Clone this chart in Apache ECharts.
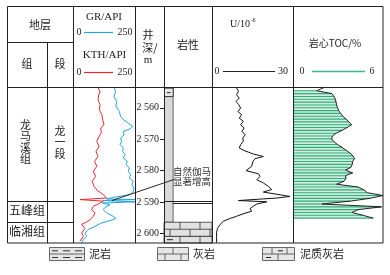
<!DOCTYPE html>
<html><head><meta charset="utf-8">
<script src="https://cdn.jsdelivr.net/npm/echarts@6/dist/echarts.min.js"></script>
<style>html,body{margin:0;padding:0;background:#fff}#c{width:390px;height:275px}</style>
</head><body><div id="c"></div>
<script>
// ---------------- data ----------------
const depthMin = 2553.4, depthMax = 2603.0;
const depthTicks = [2560, 2570, 2580, 2590, 2600];

const grDepth = [2553.6,2554.8,2556.4,2558.0,2559.6,2561.2,2562.8,2563.8,2564.9,2565.9,
  2566.7,2567.5,2568.6,2569.6,2570.7,2571.7,2572.8,2573.9,2574.9,2576.0,
  2577.0,2578.1,2579.1,2580.2,2581.3,2582.3,2583.4,2584.4,2585.5,2586.6,
  2587.6,2588.5,2589.0,2589.2,2589.5,2589.9,2590.3,2590.8,2591.7,2592.4,
  2593.4,2594.5,2595.2,2595.9,2596.6,2597.7,2598.7,2599.8,2600.9,2601.9,2602.9];
const grValue = [166,172,165,176,173,187,192,203,223,241,
  230,203,206,192,196,190,203,200,210,203,
  219,214,227,223,233,227,243,237,246,243,
  230,162,136,250,122,250,118,149,129,122,
  136,162,173,149,116,89,62,48,55,41,35];

const kthDepth = [2553.7,2554.9,2555.9,2557.5,2559.0,2560.6,2562.2,2563.8,2565.4,2566.4,
  2568.0,2569.6,2570.7,2572.3,2573.9,2575.5,2577.0,2578.6,2580.2,2581.8,
  2583.4,2585.0,2586.3,2587.6,2588.7,2589.2,2589.7,2590.6,2591.3,2592.4,
  2593.4,2594.5,2595.6,2596.3,2597.1,2598.4,2599.8,2600.9,2602.4];
const kthValue = [102,109,104,101,109,106,116,120,125,112,
  114,102,96,105,93,101,87,96,82,91,
  77,85,98,122,136,28,122,102,82,75,
  89,82,69,55,35,48,35,42,28];

const uDepth = [2553.7,2554.8,2555.9,2556.9,2558.0,2559.0,2560.1,2561.2,2562.2,2563.3,
  2564.3,2565.4,2566.4,2567.5,2568.6,2569.6,2570.7,2571.7,2572.8,2573.7,
  2574.7,2575.5,2576.2,2577.2,2578.6,2580.0,2581.0,2581.8,2582.9,2583.9,
  2585.0,2586.0,2586.8,2587.4,2588.2,2588.7,2589.5,2589.9,2590.6,2591.3,
  2592.1,2592.9,2593.7,2594.5,2595.2,2596.1,2597.1,2598.4,2599.8,2601.3,2602.9];
const uValue = [9.1,9.8,9.1,10.1,8.9,9.9,10.6,9.6,11.0,10.1,
  11.6,10.6,11.9,11.1,12.3,11.4,11.6,10.6,10.1,12.2,
  15.3,19.0,15.9,15.1,14.7,12.6,17.2,17.8,16.6,19.0,
  20.9,22.1,19.0,18.4,28.9,24.0,9.8,20.3,16.6,15.3,
  14.1,14.7,11.6,9.1,6.7,4.2,3.0,2.0,1.7,1.7,1.7];

const tocDepth = [2554.6,2555.5,2556.4,2557.3,2558.2,2559.1,2560.0,2560.9,2561.8,2562.7,
  2563.6,2564.5,2565.4,2566.3,2567.2,2568.1,2569.0,2569.9,2570.8,2571.7,
  2572.6,2573.5,2574.4,2575.3,2576.2,2577.1,2578.0,2578.9,2579.8,2580.7,
  2581.6,2582.5,2583.4,2584.3,2585.2,2586.1,2587.0,2587.9,2588.8,2589.7,
  2590.6,2591.5,2592.4,2593.3,2594.2,2595.1];
const tocValue = [1.58,2.60,2.73,2.82,2.87,2.91,2.97,3.04,3.18,3.33,
  3.53,3.73,3.91,3.60,3.27,2.87,2.63,2.58,2.73,2.97,
  3.27,3.53,3.80,4.00,4.10,3.97,3.95,3.87,3.50,3.97,
  3.50,3.53,3.40,2.90,4.33,4.73,4.95,6.00,5.13,3.80,
  1.93,5.90,4.33,3.93,4.67,5.35];
const tocTopDepth = 2553.4, tocTopValue = 2.15;

const formationName = ['龙马溪组', '五峰组', '临湘组'];
const formationTop = [2553.4, 2589.65, 2596.4];
const formationBase = [2589.65, 2596.4, 2603.0];
const memberName = ['龙一段'];
const memberTop = [2553.4];
const memberBase = [2589.65];

const lithoType = ['泥岩', '灰岩', '泥质灰岩'];
const lithoTop = [2553.75, 2596.4, 2600.9];
const lithoBase = [2596.4, 2600.9, 2603.0];
const bedBoundary = [2589.65, 2590.3];

const legendNames = ['泥岩', '灰岩', '泥质灰岩'];
const noteLines = ['自然伽马', '显著增高'];

// ---------------- styles ----------------
const SERIF = "'Liberation Serif','Times New Roman','Noto Sans CJK SC',serif";
const CJK = "'Noto Sans CJK SC','Noto Sans',sans-serif";
const INK = '#222';
const GR_COLOR = '#25a3dc', KTH_COLOR = '#e5282f';
const TOC_LINE = '#35ab7c', TOC_FILL = '#cdeedf';
const ROCK_FILL = '#e2e2e2', MUD_FILL = '#d9d9d9';

const T = 87, H = 156;
const grids = [
  {left: 73, top: T, width: 62, height: H},
  {left: 164, top: T, width: 48, height: H},
  {left: 212, top: T, width: 81, height: H},
  {left: 293, top: T, width: 90, height: H},
  {left: 7, top: T, width: 66, height: H}
];

function pairs(vals, deps) { return deps.map((d, i) => [vals[i], d]); }

function ln(x1, y1, x2, y2, stroke, w, z) {
  return {type: 'line', z: z || 50, silent: true, shape: {x1, y1, x2, y2}, style: {stroke: stroke || INK, lineWidth: w || 1}};
}
function txStyle(text, x, y, opt) {
  opt = opt || {};
  return {
    text, x, y, fill: opt.color || INK,
    fontSize: opt.size || 11, fontFamily: opt.family || CJK,
    align: opt.align || 'center', textAlign: opt.align || 'center',
    verticalAlign: 'middle', textVerticalAlign: 'middle'
  };
}
function tx(text, x, y, opt) {
  return {type: 'text', z: 50, silent: true, style: txStyle(text, x, y, opt)};
}

// brick pattern helper
function bricks(children, x0, x1, yt, yb, rowH, brickW, rowStart, withMud) {
  let r = rowStart;
  for (let y = yt; y < yb - 0.5; y += rowH, r++) {
    const ye = Math.min(y + rowH, yb);
    if (ye < yb - 0.5) children.push(ln(x0, ye, x1, ye, '#333', 0.8));
    const off = (r % 2) ? brickW * 0.8 : brickW * 0.3;
    let k = 0;
    for (let x = x0 + off; x < x1 - 1; x += brickW, k++) {
      children.push(ln(x, y, x, ye, '#333', 0.8));
      if (withMud && k % 2 === 0) {
        const cx = x - brickW / 2;
        if (cx - 3 > x0) children.push(ln(cx - 3, (y + ye) / 2, cx + 3, (y + ye) / 2, '#222', 1));
      }
    }
  }
}

// ---------------- render functions ----------------
function lithoRender(params, api) {
  const cs = params.coordSys;
  const i = params.dataIndex;
  const yt = api.coord([0, lithoTop[i]])[1];
  const yb = api.coord([0, lithoBase[i]])[1];
  const x0 = cs.x, x1 = cs.x + cs.width;
  const children = [];
  if (lithoType[i] === '泥岩') {
    const w = cs.width * 0.18;
    children.push({type: 'rect', shape: {x: x0 + 0.5, y: yt, width: w, height: yb - yt},
      style: {fill: MUD_FILL, stroke: '#444', lineWidth: 0.8}});
    children.push({type: 'rect', shape: {x: x0 + 0.5, y: yt, width: w, height: 8.5},
      style: {fill: '#e9e9e9', stroke: '#333', lineWidth: 1}});
    children.push(ln(x0 + 3, yt + 4.5, x0 + w - 2, yt + 4.5, '#222', 1));
  } else {
    children.push({type: 'rect', shape: {x: x0, y: yt, width: cs.width, height: yb - yt},
      style: {fill: ROCK_FILL, stroke: '#333', lineWidth: 0.8}});
    const rowStart = Math.round((yt - cs.y) / 7);
    bricks(children, x0, x1, yt, yb, 7, 20, rowStart, lithoType[i] === '泥质灰岩');
  }
  return {type: 'group', children};
}

function bedRender(params, api) {
  const cs = params.coordSys;
  const y = Math.round(api.coord([0, bedBoundary[params.dataIndex]])[1]) + 0.5;
  const xs = params.dataIndex === 0 ? cs.x : cs.x + cs.width * 0.18;
  return ln(xs, y, cs.x + cs.width, y, INK, 1, 3);
}

function stratRender(names, col) {
  return function (params, api) {
    const cs = params.coordSys;
    const i = params.dataIndex;
    const yt = api.coord([0, api.value(1)])[1];
    const yb = api.coord([0, api.value(2)])[1];
    const split = cs.x + 40;
    const xl = col === 0 ? cs.x : split;
    const xr = col === 0 ? split : cs.x + cs.width;
    const vertical = (yb - yt) > 50;
    const children = [];
    if (col === 0 && yt > cs.y + 1) {
      const yy = Math.round(yt) + 0.5;
      children.push(ln(cs.x, yy, cs.x + cs.width, yy, INK, 1, 3));
    }
    const cx = (xl + xr) / 2 - (col === 0 ? 1.5 : 0), cy = (yt + yb) / 2 - (vertical ? 2 : 1);
    if (vertical) {
      const chars = names[i].split('');
      const step = 11.5;
      chars.forEach((c, k) => children.push({type: 'text',
        style: txStyle(c, cx, cy + (k - (chars.length - 1) / 2) * step, {size: 11})}));
    } else {
      children.push({type: 'text', style: txStyle(names[i], cx + 1.5, cy, {size: 12})});
    }
    return {type: 'group', children};
  };
}

function tocFillRender(params, api) {
  const pts = [api.coord([0, tocDepth[0]])];
  tocDepth.forEach((d, i) => pts.push(api.coord([tocValue[i], d])));
  pts.push(api.coord([0, tocDepth[tocDepth.length - 1]]));
  return {type: 'polygon', shape: {points: pts}, style: {fill: TOC_FILL}};
}
function tocBarRender(params, api) {
  const a = api.coord([0, api.value(1)]);
  const b = api.coord([api.value(0), api.value(1)]);
  return {type: 'line', shape: {x1: a[0], y1: a[1], x2: b[0], y2: b[1]}, style: {stroke: TOC_LINE, lineWidth: 1.1}};
}

// ---------------- graphics (table + headers + legend) ----------------
const g = [];
g.push({type: 'rect', z: 50, silent: true, shape: {x: 7.5, y: 6.5, width: 375.5, height: 236.5}, style: {fill: 'none', stroke: INK, lineWidth: 1}});
[73, 135, 164, 212, 293].forEach(x => g.push(ln(x + 0.5, 6.5, x + 0.5, 243)));
g.push(ln(47.5, 42.5, 47.5, 243));
g.push(ln(7.5, 42.5, 73.5, 42.5));
g.push(ln(7.5, 87.5, 383, 87.5));

g.push(tx('地层', 40, 25, {size: 11}));
g.push(tx('组', 27, 64, {size: 11}));
g.push(tx('段', 60, 64, {size: 11}));
g.push(tx('GR/API', 104, 17, {family: SERIF, size: 11}));
g.push(tx('0', 79, 32, {family: SERIF, size: 10}));
g.push(ln(84, 32.5, 113, 32.5, GR_COLOR, 1.2));
g.push(tx('250', 125, 32, {family: SERIF, size: 10}));
g.push(tx('KTH/API', 104.5, 55, {family: SERIF, size: 11}));
g.push(tx('0', 79, 72, {family: SERIF, size: 10}));
g.push(ln(84, 72.5, 113, 72.5, KTH_COLOR, 1.2));
g.push(tx('250', 125, 72, {family: SERIF, size: 10}));
g.push(tx('井', 148, 35, {size: 11}));
g.push(tx('深/', 150, 47.5, {size: 11}));
g.push(tx('m', 148, 60, {family: SERIF, size: 11}));
g.push(tx('岩性', 188, 45, {size: 11}));
g.push(tx('U/10', 250, 24, {family: SERIF, size: 10, align: 'right'}));
g.push(tx('-6', 250.5, 20.5, {family: SERIF, size: 6, align: 'left'}));
g.push(tx('0', 217, 71, {family: SERIF, size: 10}));
g.push(ln(223, 71.5, 275, 71.5, INK, 1));
g.push(tx('30', 283, 71, {family: SERIF, size: 10}));
g.push(tx('岩心TOC/%', 335, 43, {size: 10}));
g.push(tx('0', 302, 71, {family: SERIF, size: 10}));
g.push(ln(312, 71.5, 365, 71.5, '#3cb88a', 1.5));
g.push(tx('6', 372, 71, {family: SERIF, size: 10}));

// bottom legend
const lg = [];
lg.push({type: 'rect', shape: {x: 49.5, y: 247.5, width: 35, height: 13}, style: {fill: '#e6e6e6', stroke: '#444', lineWidth: 0.8}});
lg.push(ln(49.5, 254, 84.5, 254, '#444', 0.8));
[[52, 58], [63, 70], [75, 82]].forEach(s => { lg.push(ln(s[0], 250.8, s[1], 250.8, '#333', 1)); lg.push(ln(s[0], 257.5, s[1], 257.5, '#333', 1)); });
lg.push({type: 'rect', shape: {x: 157.5, y: 247.5, width: 31, height: 13}, style: {fill: '#e6e6e6', stroke: '#444', lineWidth: 0.8}});
lg.push(ln(157.5, 254, 188.5, 254, '#444', 0.8));
lg.push(ln(173, 247.5, 173, 254, '#444', 0.8));
lg.push(ln(165, 254, 165, 260.5, '#444', 0.8));
lg.push(ln(181, 254, 181, 260.5, '#444', 0.8));
lg.push({type: 'rect', shape: {x: 262.5, y: 247.5, width: 32, height: 13}, style: {fill: '#e6e6e6', stroke: '#444', lineWidth: 0.8}});
lg.push(ln(262.5, 254, 294.5, 254, '#444', 0.8));
lg.push(ln(272, 247.5, 272, 254, '#444', 0.8));
lg.push(ln(287, 247.5, 287, 254, '#444', 0.8));
lg.push(ln(278, 254, 278, 260.5, '#444', 0.8));
lg.push(ln(278, 250.8, 283, 250.8, '#222', 1));
lg.push(ln(266, 257.5, 271, 257.5, '#222', 1));
lg.forEach(e => { e.z = 50; e.silent = true; g.push(e); });
const legendX = [89, 193, 300];
legendNames.forEach((n, i) => g.push(tx(n, legendX[i], 254, {size: 11, align: 'left'})));

// ---------------- option ----------------
const option = {
  animation: false,
  backgroundColor: '#fff',
  grid: grids,
  xAxis: [
    {gridIndex: 0, type: 'value', min: 0, max: 250, show: false},
    {gridIndex: 1, type: 'value', min: 0, max: 1, show: false},
    {gridIndex: 2, type: 'value', min: 0, max: 30, show: false},
    {gridIndex: 3, type: 'value', min: 0, max: 6, show: false},
    {gridIndex: 4, type: 'value', min: 0, max: 1, show: false}
  ],
  yAxis: [0, 1, 2, 3, 4].map(i => ({
    gridIndex: i, type: 'value', min: depthMin, max: depthMax, inverse: true,
    show: i === 1,
    axisLine: {show: false}, splitLine: {show: false},
    axisTick: {show: true, customValues: depthTicks, length: 4, lineStyle: {color: INK, width: 1}},
    axisLabel: {show: true, customValues: depthTicks, margin: 5, fontSize: 10, fontFamily: SERIF, color: INK,
      formatter: v => { const s = String(Math.round(v)); return s[0] + ' ' + s.slice(1); }}
  })),
  series: [
    {type: 'line', name: 'GR', xAxisIndex: 0, yAxisIndex: 0, data: pairs(grValue, grDepth),
      showSymbol: false, symbol: 'none', lineStyle: {color: GR_COLOR, width: 1}},
    {type: 'line', name: 'KTH', xAxisIndex: 0, yAxisIndex: 0, data: pairs(kthValue, kthDepth),
      showSymbol: false, symbol: 'none', lineStyle: {color: KTH_COLOR, width: 1}},
    {type: 'custom', name: 'litho', xAxisIndex: 1, yAxisIndex: 1,
      data: lithoTop.map((t, i) => [0, t, lithoBase[i]]), renderItem: lithoRender, silent: true},
    {type: 'custom', name: 'beds', xAxisIndex: 1, yAxisIndex: 1,
      data: bedBoundary.map(d => [0, d]), renderItem: bedRender, silent: true, z: 3},
    {type: 'line', name: 'U', xAxisIndex: 2, yAxisIndex: 2, data: pairs(uValue, uDepth),
      showSymbol: false, symbol: 'none', lineStyle: {color: '#111', width: 1}},
    {type: 'custom', name: 'tocFill', xAxisIndex: 3, yAxisIndex: 3,
      data: [[0, tocDepth[0]]], renderItem: tocFillRender, silent: true},
    {type: 'custom', name: 'tocBars', xAxisIndex: 3, yAxisIndex: 3,
      data: pairs(tocValue, tocDepth), renderItem: tocBarRender, silent: true},
    {type: 'line', name: 'TOC', xAxisIndex: 3, yAxisIndex: 3,
      data: [[tocTopValue, tocTopDepth]].concat(pairs(tocValue, tocDepth)),
      showSymbol: false, symbol: 'none', lineStyle: {color: '#222', width: 1}},
    {type: 'custom', name: 'formation', xAxisIndex: 4, yAxisIndex: 4,
      data: formationTop.map((t, i) => [0, t, formationBase[i]]), renderItem: stratRender(formationName, 0), silent: true},
    {type: 'custom', name: 'member', xAxisIndex: 4, yAxisIndex: 4,
      data: memberTop.map((t, i) => [1, t, memberBase[i]]), renderItem: stratRender(memberName, 1), silent: true}
  ],
  graphic: g.map((e, i) => Object.assign({id: 'g' + i}, e))
};

const chart = echarts.init(document.getElementById('c'), null, {renderer: 'canvas'});
chart.setOption(option);

// annotation: leader from the GR spike to the note in the lithology column
const annoFrom = chart.convertToPixel({gridIndex: 0}, [157, 2589.5]);
const annoTo = chart.convertToPixel({gridIndex: 1}, [0.21, 2582.8]);
const noteAt = chart.convertToPixel({gridIndex: 1}, [0.19, 2580.2]);
const annoEls = [
  {id: 'annoLine', type: 'line', z: 100, silent: true,
    shape: {x1: annoFrom[0], y1: annoFrom[1], x2: annoTo[0], y2: annoTo[1]}, style: {stroke: '#111', lineWidth: 0.9}}
];
noteLines.forEach((t, k) => annoEls.push({id: 'note' + k, type: 'text', z: 100, silent: true,
  style: txStyle(t, noteAt[0], noteAt[1] + k * 10.5, {size: 9.5, color: '#333', align: 'left'})}));
chart.setOption({graphic: annoEls});
</script>
</body></html>
